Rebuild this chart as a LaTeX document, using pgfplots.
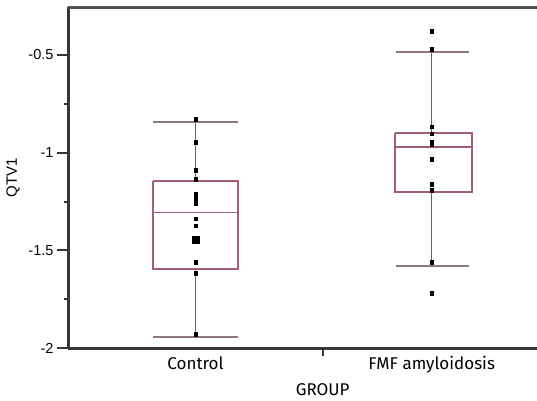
\documentclass[border=0pt]{standalone}
\usepackage{fontspec}
\setmainfont{Fira Sans}
\newfontfamily\arialf{Liberation Sans}
\usepackage{pgfplots}
\pgfplotsset{compat=1.18}

\definecolor{boxc}{RGB}{165,92,120}
\definecolor{capc}{RGB}{145,118,128}
\definecolor{whc}{RGB}{160,70,100}
\definecolor{spine}{RGB}{55,55,55}

\begin{document}
\begin{tikzpicture}
\begin{axis}[
    scale only axis,
    width=468.5pt,
    height=340.5pt,
    xmin=0.462, xmax=2.446,
    ymin=-2, ymax=-0.2568,
    axis x line*=bottom,
    axis y line*=left,
    axis line style={-, line width=3pt, draw=spine},
    clip=false,
    tick align=outside,
    xtick=\empty,
    extra x ticks={1,2},
    extra x tick labels={Control, FMF amyloidosis},
    extra x tick style={major tick length=0pt,
        xticklabel style={font=\fontsize{17}{20}\selectfont, anchor=base, yshift=-21pt}},
    ytick={-2,-1.5,-1,-0.5},
    yticklabels={-2,-1.5,-1,-0.5},
    minor ytick={-1.75,-1.25,-0.75},
    major tick length=11.5pt,
    minor tick length=4pt,
    tick style={line width=2pt, draw=spine},
    yticklabel style={font=\arialf\fontsize{14.5}{17}\selectfont},
    ylabel={QTV1},
    xlabel={GROUP},
    every axis y label/.style={at={(rel axis cs:0,0.5)}, rotate=90, anchor=center,
        yshift=55.5pt, font=\arialf\fontsize{15}{18}\selectfont},
    every axis x label/.style={at={(rel axis cs:0.5426,0)}, anchor=base,
        yshift=-47.5pt, font=\fontsize{17}{20}\selectfont},
]
\coordinate (ll) at (rel axis cs:0,0);
\draw[line width=2.5pt, black!68] (rel axis cs:0,1) -- (rel axis cs:1,1);

% lone tick under the x axis
\addplot[line width=2pt, spine] coordinates {(1.538,-2) (1.538,-2.041)};

% Control: box, median, whiskers, caps
\addplot[boxc, line width=1.6pt] coordinates {(0.82,-1.145) (1.18,-1.145) (1.18,-1.597) (0.82,-1.597) (0.82,-1.145)};
\addplot[boxc, line width=1.6pt] coordinates {(0.82,-1.307) (1.18,-1.307)};
\addplot[whc, line width=1.6pt] coordinates {(1,-1.145) (1,-0.845)};
\addplot[whc, line width=1.6pt] coordinates {(1,-1.597) (1,-1.942)};
\addplot[capc, line width=1.8pt] coordinates {(0.819,-0.845) (1.18,-0.845)};
\addplot[capc, line width=1.8pt] coordinates {(0.819,-1.942) (1.18,-1.942)};

% FMF amyloidosis: box, median, whiskers, caps
\addplot[boxc, line width=1.6pt] coordinates {(1.845,-0.898) (2.17,-0.898) (2.17,-1.2) (1.845,-1.2) (1.845,-0.898)};
\addplot[boxc, line width=1.6pt] coordinates {(1.845,-0.97) (2.17,-0.97)};
\addplot[whc, line width=1.6pt] coordinates {(2,-0.898) (2,-0.486)};
\addplot[whc, line width=1.6pt] coordinates {(2,-1.2) (2,-1.579)};
\addplot[capc, line width=1.8pt] coordinates {(1.849,-0.486) (2.159,-0.486)};
\addplot[capc, line width=1.8pt] coordinates {(1.849,-1.579) (2.159,-1.579)};

% individual values
\addplot[only marks, mark=square*, mark size=1.8pt, black] coordinates {
    (1,-0.828) (1,-0.947) (1,-1.089) (1,-1.137)
    (1,-1.213) (1,-1.228) (1,-1.243) (1,-1.259)
    (1,-1.339) (1,-1.373) (1,-1.561) (1,-1.616) (1,-1.929)
    (2,-0.377) (2,-0.471) (2,-0.867) (2,-0.902) (2,-0.945) (2,-0.96)
    (2,-1.033) (2,-1.162) (2,-1.192) (2,-1.561) (2,-1.72)
};
\addplot[only marks, mark=square*, mark size=3.6pt, black] coordinates {(1,-1.447)};
\end{axis}
\pgfresetboundingbox
\path ([shift={(-68.5pt,-52pt)}]ll) rectangle ([shift={(468.5pt,348pt)}]ll);
\end{tikzpicture}
\end{document}
